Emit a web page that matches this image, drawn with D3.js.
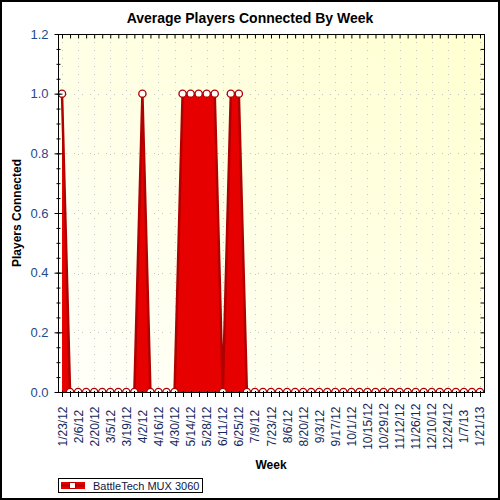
<!DOCTYPE html>
<html>
<head>
<meta charset="utf-8">
<script src="https://cdn.jsdelivr.net/npm/d3@7"></script>
<style>
  body { margin: 0; background: #fff; }
  text { font-family: "Liberation Sans", Arial, sans-serif; }
</style>
</head>
<body>
<div class="canvas"></div>
<script>
// weekly categories, 1/23/12 .. 1/21/13
const weeks = [
  '1/23/12', '1/30/12', '2/6/12', '2/13/12', '2/20/12', '2/27/12', '3/5/12', '3/12/12',
  '3/19/12', '3/26/12', '4/2/12', '4/9/12', '4/16/12', '4/23/12', '4/30/12', '5/7/12',
  '5/14/12', '5/21/12', '5/28/12', '6/4/12', '6/11/12', '6/18/12', '6/25/12', '7/2/12',
  '7/9/12', '7/16/12', '7/23/12', '7/30/12', '8/6/12', '8/13/12', '8/20/12', '8/27/12',
  '9/3/12', '9/10/12', '9/17/12', '9/24/12', '10/1/12', '10/8/12', '10/15/12', '10/22/12',
  '10/29/12', '11/5/12', '11/12/12', '11/19/12', '11/26/12', '12/3/12', '12/10/12', '12/17/12',
  '12/24/12', '12/31/12', '1/7/13', '1/14/13', '1/21/13'
];
const players = [
  1, 0, 0, 0, 0, 0, 0, 0,
  0, 0, 1, 0, 0, 0, 0, 1,
  1, 1, 1, 1, 0, 1, 1, 0,
  0, 0, 0, 0, 0, 0, 0, 0,
  0, 0, 0, 0, 0, 0, 0, 0,
  0, 0, 0, 0, 0, 0, 0, 0,
  0, 0, 0, 0, 0
];
const yMajor = [0, 0.2, 0.4, 0.6, 0.8, 1.0, 1.2];
const seriesName = 'BattleTech MUX 3060';

const data = weeks.map((w, i) => ({ week: w, value: players[i] }));
const labelled = weeks.filter((w, i) => i % 2 === 0);

const W = 500, H = 500;
const plot = { left: 58, right: 484, top: 34, bottom: 392 };

const svg = d3.select('.canvas')
  .append('svg')
  .attr('width', W)
  .attr('height', H);

const x = d3.scalePoint()
  .domain(weeks)
  .range([plot.left, plot.right])
  .padding(0.5);

const y = d3.scaleLinear()
  .domain([0, 1.2])
  .range([plot.bottom, plot.top]);

// outer frame
svg.append('rect')
  .attr('x', 1).attr('y', 1)
  .attr('width', W - 2).attr('height', H - 2)
  .attr('fill', '#fff')
  .attr('stroke', '#000')
  .attr('stroke-width', 2);

// plot background gradient
const defs = svg.append('defs');
const grad = defs.append('linearGradient')
  .attr('id', 'bg')
  .attr('x1', '0%').attr('y1', '100%')
  .attr('x2', '100%').attr('y2', '0%');
grad.append('stop').attr('offset', '0%').attr('stop-color', '#fffffb');
grad.append('stop').attr('offset', '100%').attr('stop-color', '#ffffd0');

defs.append('clipPath')
  .attr('id', 'clip')
  .append('rect')
  .attr('x', plot.left).attr('y', plot.top)
  .attr('width', plot.right - plot.left)
  .attr('height', plot.bottom - plot.top);

svg.append('rect')
  .attr('x', plot.left).attr('y', plot.top)
  .attr('width', plot.right - plot.left)
  .attr('height', plot.bottom - plot.top)
  .attr('fill', 'url(#bg)');

// dotted grid
const grid = svg.append('g')
  .attr('stroke', '#c4c4c4')
  .attr('stroke-width', 1)
  .attr('stroke-dasharray', '1,7');

grid.selectAll('.vg')
  .data(labelled)
  .join('line')
  .attr('x1', d => Math.round(x(d)) + 0.5)
  .attr('x2', d => Math.round(x(d)) + 0.5)
  .attr('y1', plot.top)
  .attr('y2', plot.bottom);

grid.selectAll('.hg')
  .data(yMajor.slice(1))
  .join('line')
  .attr('x1', plot.left)
  .attr('x2', plot.right)
  .attr('y1', d => Math.round(y(d)) + 0.5)
  .attr('y2', d => Math.round(y(d)) + 0.5);

// area series
const chart = svg.append('g').attr('clip-path', 'url(#clip)');

const area = d3.area()
  .x(d => x(d.week))
  .y0(y(0))
  .y1(d => y(d.value));

const line = d3.line()
  .x(d => x(d.week))
  .y(d => y(d.value));

chart.append('path')
  .datum(data)
  .attr('d', area)
  .attr('fill', '#e60000');

chart.append('path')
  .datum(data)
  .attr('d', line)
  .attr('fill', 'none')
  .attr('stroke', '#b00000')
  .attr('stroke-width', 2.5)
  .attr('stroke-linejoin', 'miter');

chart.selectAll('.pt')
  .data(data)
  .join('circle')
  .attr('cx', d => x(d.week))
  .attr('cy', d => y(d.value))
  .attr('r', 3.6)
  .attr('fill', '#fff')
  .attr('stroke', '#b00000')
  .attr('stroke-width', 1.3);

// axes
const axisColor = '#000';

// left
const yMinor = d3.range(0, 1.2001, 0.05);
const leftMinor = svg.append('g')
  .attr('transform', `translate(${plot.left + 0.5},0)`)
  .call(d3.axisLeft(y).tickValues(yMinor).tickSize(2).tickFormat(''));
leftMinor.selectAll('.tick line').attr('x1', 2);
leftMinor.select('.domain').remove();

const leftMajor = svg.append('g')
  .attr('transform', `translate(${plot.left + 0.5},0)`)
  .call(d3.axisLeft(y).tickValues(yMajor).tickSize(4).tickPadding(6).tickFormat(d3.format('.1f')));
leftMajor.selectAll('.tick line').attr('x1', 4);
leftMajor.selectAll('.tick text')
  .attr('font-size', 13)
  .attr('fill', '#1f4a8c');
leftMajor.select('.domain').remove();

svg.append('line')
  .attr('x1', plot.left + 0.5).attr('x2', plot.left + 0.5)
  .attr('y1', plot.top).attr('y2', plot.bottom + 1)
  .attr('stroke', axisColor);

// right
const rightAxis = svg.append('g')
  .attr('transform', `translate(${plot.right + 0.5},0)`)
  .call(d3.axisLeft(y).tickValues(yMinor).tickSize(4).tickFormat(''));
rightAxis.select('.domain').remove();
svg.append('line')
  .attr('x1', plot.right + 0.5).attr('x2', plot.right + 0.5)
  .attr('y1', plot.top).attr('y2', plot.bottom + 1)
  .attr('stroke', axisColor);

// top
const topAxis = svg.append('g')
  .attr('transform', `translate(0,${plot.top + 0.5})`)
  .call(d3.axisBottom(x).tickSize(4).tickFormat(''));
topAxis.select('.domain').remove();
svg.append('line')
  .attr('x1', plot.left).attr('x2', plot.right + 1)
  .attr('y1', plot.top + 0.5).attr('y2', plot.top + 0.5)
  .attr('stroke', axisColor);

// bottom
const bottomAxis = svg.append('g')
  .attr('transform', `translate(0,${plot.bottom + 0.5})`)
  .call(d3.axisBottom(x).tickSize(4)
    .tickFormat(d => (weeks.indexOf(d) % 2 === 0 ? d : '')));
bottomAxis.selectAll('.tick line').attr('y1', -2).attr('shape-rendering', 'crispEdges');
bottomAxis.select('.domain').remove();
bottomAxis.selectAll('.tick text')
  .attr('font-size', 12)
  .attr('fill', '#14285a')
  .attr('text-anchor', 'middle')
  .attr('dominant-baseline', 'central')
  .attr('transform', 'rotate(-90)')
  .attr('x', -34)
  .attr('y', 0)
  .attr('dy', null);
svg.append('line')
  .attr('x1', plot.left).attr('x2', plot.right + 1)
  .attr('y1', plot.bottom + 0.5).attr('y2', plot.bottom + 0.5)
  .attr('stroke', axisColor);

svg.selectAll('.tick line').attr('stroke', axisColor);

// titles
svg.append('text')
  .attr('x', 250)
  .attr('y', 23)
  .attr('text-anchor', 'middle')
  .attr('font-size', 14)
  .attr('font-weight', 'bold')
  .attr('fill', '#000')
  .text('Average Players Connected By Week');

svg.append('text')
  .attr('transform', `translate(21,${(plot.top + plot.bottom) / 2}) rotate(-90)`)
  .attr('text-anchor', 'middle')
  .attr('font-size', 12)
  .attr('font-weight', 'bold')
  .attr('fill', '#000')
  .text('Players Connected');

svg.append('text')
  .attr('x', (plot.left + plot.right) / 2)
  .attr('y', 469)
  .attr('text-anchor', 'middle')
  .attr('font-size', 12)
  .attr('font-weight', 'bold')
  .attr('fill', '#000')
  .text('Week');

// legend
const legend = svg.append('g').attr('transform', 'translate(58,478)');
legend.append('rect')
  .attr('x', 0.5).attr('y', 0.5)
  .attr('width', 144).attr('height', 14)
  .attr('fill', '#fff')
  .attr('stroke', '#000');
legend.append('rect')
  .attr('x', 3).attr('y', 4)
  .attr('width', 24).attr('height', 7)
  .attr('fill', '#e60000');
legend.append('line')
  .attr('x1', 3).attr('x2', 27)
  .attr('y1', 7.5).attr('y2', 7.5)
  .attr('stroke', '#b00000')
  .attr('stroke-width', 2);
legend.append('rect')
  .attr('x', 11.5).attr('y', 4.5)
  .attr('width', 6).attr('height', 6)
  .attr('fill', '#fff')
  .attr('stroke', '#b00000');
legend.append('text')
  .attr('x', 35)
  .attr('y', 11.5)
  .attr('font-size', 11)
  .attr('fill', '#101840')
  .text(seriesName);
</script>
</body>
</html>
